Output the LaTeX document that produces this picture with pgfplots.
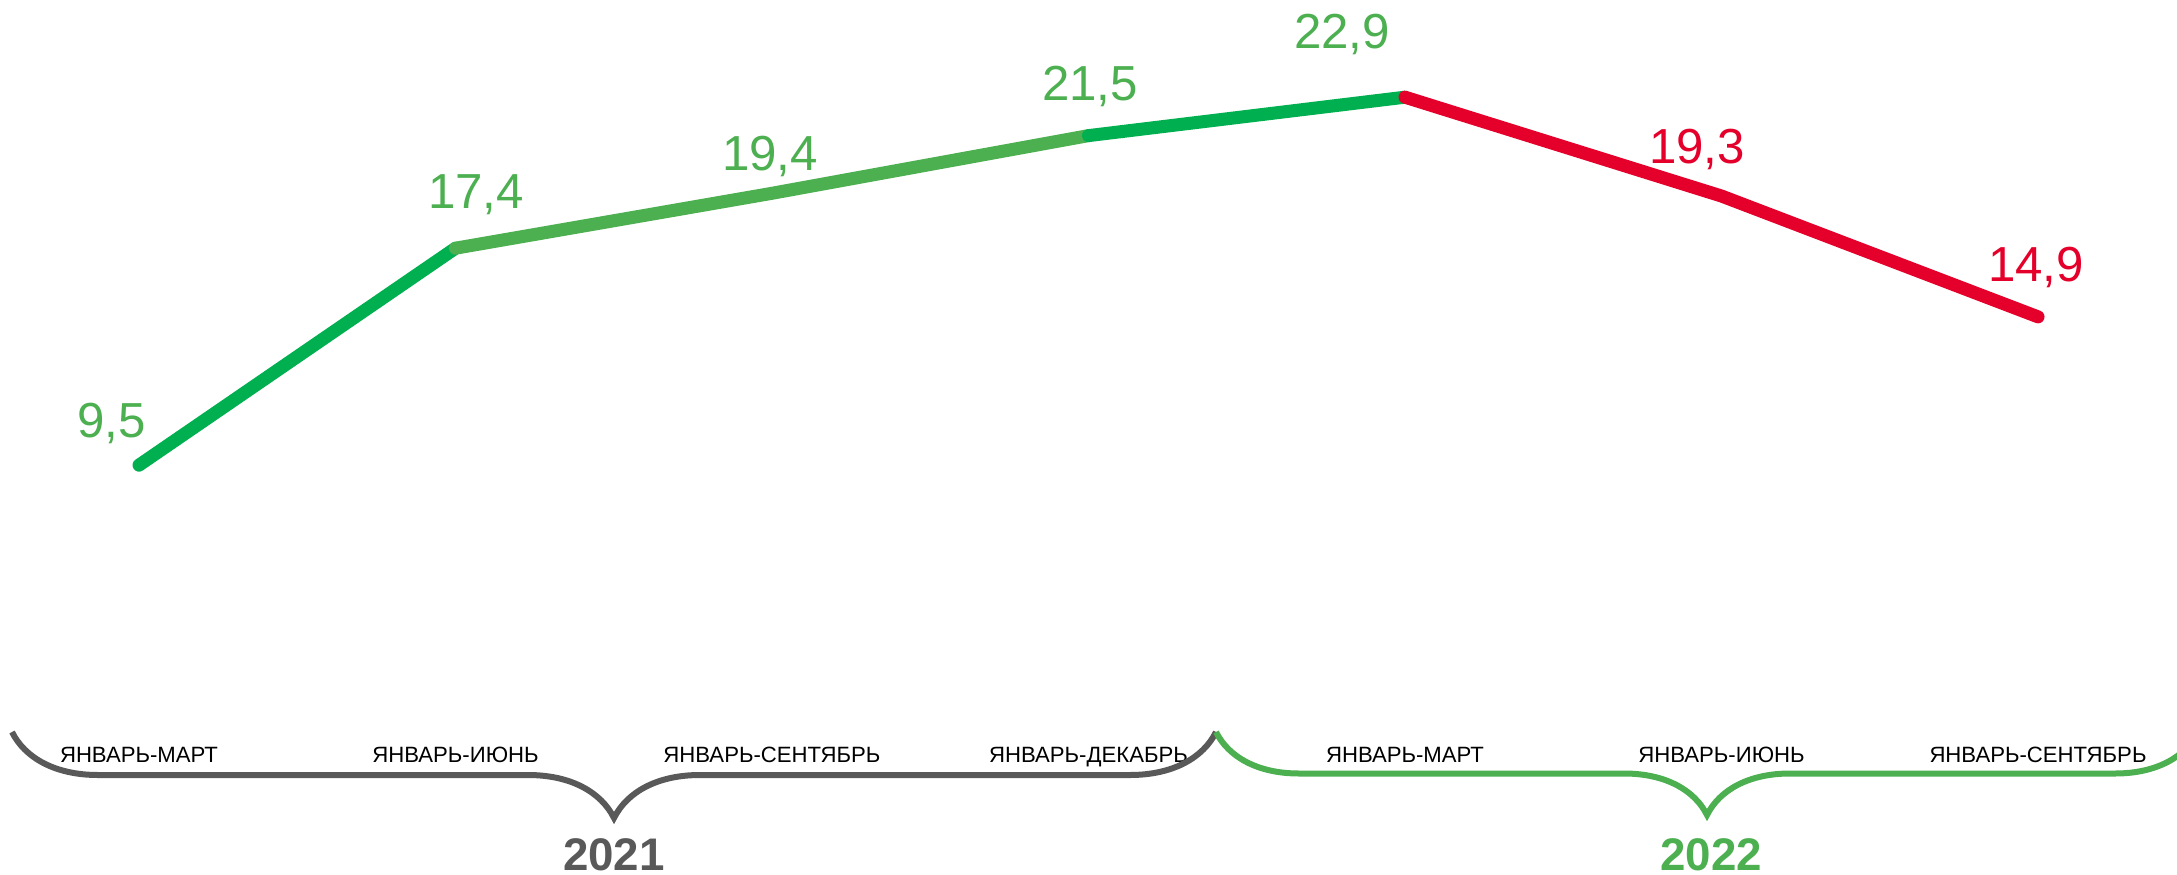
\documentclass[border=0pt]{standalone}
\usepackage{fontspec}
\setmainfont{Liberation Sans}
\usepackage{pgfplots}
\pgfplotsset{compat=1.18}
\usetikzlibrary{decorations.pathreplacing}

\definecolor{dkgreen}{HTML}{00B050}
\definecolor{ltgreen}{HTML}{4CAF50}
\definecolor{rd}{HTML}{E4002B}
\definecolor{gry}{HTML}{595959}

\tikzset{vlab/.style={anchor=base, font=\fontsize{14}{16}\selectfont}}

\begin{document}
\begin{tikzpicture}
\begin{axis}[
  at={(0,0)}, anchor=north west,
  scale only axis, width=217.7mm, height=87.5mm,
  xmin=-0.4392, xmax=6.4392, ymin=-5.426, ymax=26.439,
  axis line style={draw=none}, major tick length=0pt,
  ytick=\empty, xtick={0,...,6},
  xticklabels={ЯНВАРЬ-МАРТ, ЯНВАРЬ-ИЮНЬ, ЯНВАРЬ-СЕНТЯБРЬ, ЯНВАРЬ-ДЕКАБРЬ,
               ЯНВАРЬ-МАРТ, ЯНВАРЬ-ИЮНЬ, ЯНВАРЬ-СЕНТЯБРЬ},
  x tick label style={font=\fontsize{6.3}{7}\selectfont, anchor=base, yshift=11.3mm, text=black},
  clip=false,
  every axis plot/.append style={line width=1.3mm, line cap=round, line join=round},
]
% segments, in the order they are stacked
\addplot[dkgreen] coordinates {(0,9.5) (1,17.4)};
\addplot[ltgreen] coordinates {(1,17.4) (2,19.4) (3,21.5)};
\addplot[dkgreen] coordinates {(3,21.5) (4,22.9)};
\addplot[rd] coordinates {(4,22.9) (5,19.3) (6,14.9)};

% value labels
\node[vlab, text=ltgreen, xshift=-2.75mm, yshift=2.8mm] at (axis cs:0,9.5) {9,5};
\node[vlab, text=ltgreen, xshift=2.05mm, yshift=4.0mm] at (axis cs:1,17.4) {17,4};
\node[vlab, text=ltgreen, xshift=-0.2mm, yshift=2.3mm] at (axis cs:2,19.4) {19,4};
\node[vlab, text=ltgreen, xshift=0.15mm, yshift=3.56mm] at (axis cs:3,21.5) {21,5};
\node[vlab, text=ltgreen, xshift=-6.3mm, yshift=4.9mm] at (axis cs:4,22.9) {22,9};
\node[vlab, text=rd, xshift=-2.45mm, yshift=3.3mm] at (axis cs:5,19.3) {19,3};
\node[vlab, text=rd, xshift=-0.2mm, yshift=3.5mm] at (axis cs:6,14.9) {14,9};
\end{axis}

% year braces
\draw[gry, line width=0.6mm, decorate, decoration={brace, mirror, amplitude=8.6mm}]
  (1.2mm,-73.2mm) -- (121.6mm,-73.2mm);
\draw[ltgreen, line width=0.6mm, decorate, decoration={brace, mirror, amplitude=8.3mm}]
  (121.6mm,-73.2mm) -- (219.8mm,-73.2mm);
\node[gry, font=\bfseries\fontsize{13}{15}\selectfont, anchor=base] at (61.4mm,-87.0mm) {2021};
\node[ltgreen, font=\bfseries\fontsize{13}{15}\selectfont, anchor=base] at (171.1mm,-87.0mm) {2022};

\pgfresetboundingbox
\path[use as bounding box] (0,0) rectangle (217.7mm,-87.5mm);
\end{tikzpicture}
\end{document}
